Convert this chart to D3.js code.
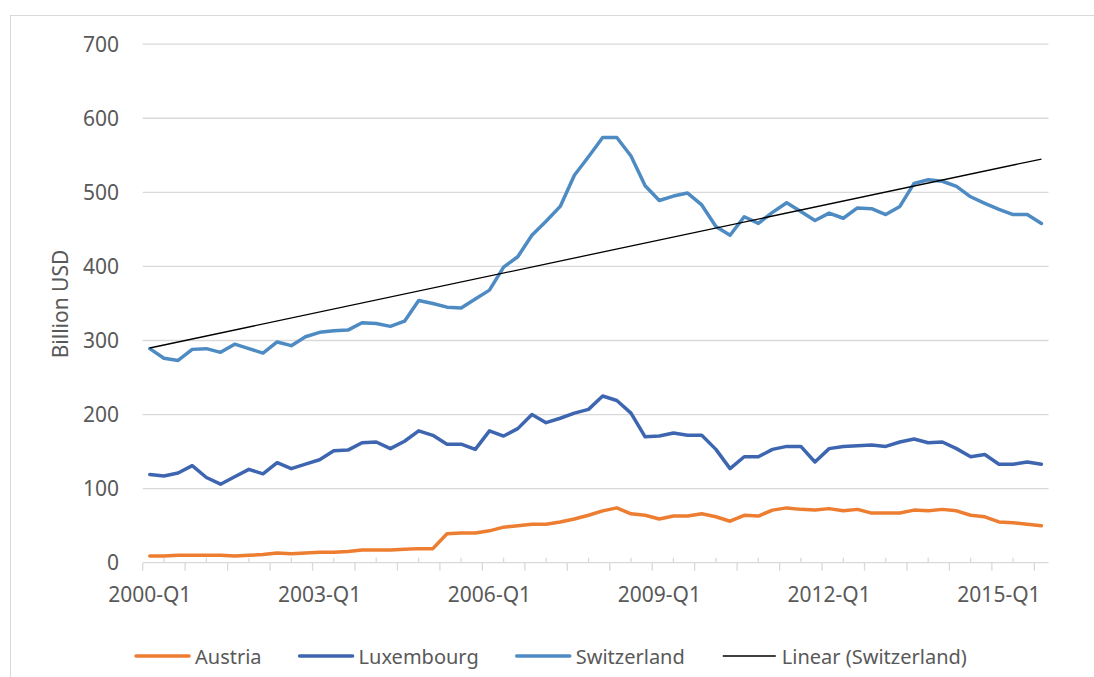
<!DOCTYPE html>
<html>
<head>
<meta charset="utf-8">
<script src="https://cdnjs.cloudflare.com/ajax/libs/d3/7.8.5/d3.min.js"></script>
<style>
  body { margin: 0; background: #fff; }
  text { font-family: "Noto Sans", "Open Sans", sans-serif; fill: #595959; }
</style>
</head>
<body>
<div id="chart"></div>
<script>
// quarterly categories 2000-Q1 .. 2015-Q4
var years = d3.range(2000, 2016);
var categories = years.flatMap(y => ["Q1", "Q2", "Q3", "Q4"].map(q => y + "-" + q));

var austria = [9, 9, 10, 10, 10, 10, 9, 10, 11, 13, 12, 13, 14, 14, 15, 17, 17, 17, 18, 19,
  19, 39, 40, 40, 43, 48, 50, 52, 52, 55, 59, 64, 70, 74, 66, 64, 59, 63, 63, 66,
  62, 56, 64, 63, 71, 74, 72, 71, 73, 70, 72, 67, 67, 67, 71, 70, 72, 70, 64, 62,
  55, 54, 52, 50];

var luxembourg = [119, 117, 121, 131, 115, 106, 116, 126, 120, 135, 127, 133, 139, 151, 152, 162, 163, 154, 164, 178,
  172, 160, 160, 153, 178, 171, 181, 200, 189, 195, 202, 207, 225, 219, 202, 170, 171, 175, 172, 172,
  153, 127, 143, 143, 153, 157, 157, 136, 154, 157, 158, 159, 157, 163, 167, 162, 163, 154, 143, 146,
  133, 133, 136, 133];

var switzerland = [289, 276, 273, 288, 289, 284, 295, 289, 283, 298, 293, 305, 311, 313, 314, 324, 323, 319, 326, 354,
  350, 345, 344, 356, 368, 399, 413, 442, 461, 481, 523, 548, 574, 574, 549, 509, 489, 495, 499, 483,
  454, 442, 467, 458, 473, 486, 474, 462, 472, 465, 479, 478, 470, 481, 512, 517, 515, 508, 494, 485,
  477, 470, 470, 458];

var yTicks = [0, 100, 200, 300, 400, 500, 600, 700];
var xLabels = ["2000-Q1", "2003-Q1", "2006-Q1", "2009-Q1", "2012-Q1", "2015-Q1"];

var series = [
  {name: "Austria", values: austria, color: "#ED7D31"},
  {name: "Luxembourg", values: luxembourg, color: "#3E66B0"},
  {name: "Switzerland", values: switzerland, color: "#4F8BC3"}
];

var width = 1094, height = 677;

var svg = d3.select("#chart")
  .append("svg")
  .attr("width", width)
  .attr("height", height);

svg.append("rect")
  .attr("width", width).attr("height", height)
  .attr("fill", "#fff");

// outer chart frame (only left and top edges are visible)
svg.append("rect")
  .attr("x", 10.5).attr("y", 15.5)
  .attr("width", width + 20).attr("height", height + 20)
  .attr("fill", "none")
  .attr("stroke", "#d9d9d9");

var x = d3.scalePoint()
  .domain(categories)
  .range([142.7, 1048.5])
  .padding(0.5);

var step = x.step();
var x0 = x.range()[0];

var y = d3.scaleLinear()
  .domain([0, 700])
  .range([562.7, 44.2]);

// gridlines
svg.append("g")
  .selectAll("line")
  .data(yTicks)
  .enter()
  .append("line")
  .attr("x1", x0).attr("x2", x.range()[1])
  .attr("y1", d => y(d)).attr("y2", d => y(d))
  .attr("stroke", "#d9d9d9")
  .attr("stroke-width", 1.3);

// y tick labels
svg.append("g")
  .selectAll("text")
  .data(yTicks)
  .enter()
  .append("text")
  .attr("x", 119)
  .attr("y", d => y(d))
  .attr("dy", "0.36em")
  .attr("text-anchor", "end")
  .style("font-size", "21px")
  .text(d => d);

svg.append("text")
  .attr("transform", "translate(68,304) rotate(-90)")
  .attr("text-anchor", "middle")
  .style("font-size", "21px")
  .text("Billion USD");

// x axis tick marks: major every 3 categories outside, minor between inside
var majorIdx = d3.range(0, categories.length + 1, 3);
svg.append("g")
  .selectAll("line")
  .data(majorIdx)
  .enter()
  .append("line")
  .attr("x1", d => x0 + d * step).attr("x2", d => x0 + d * step)
  .attr("y1", y(0)).attr("y2", y(0) + 8)
  .attr("stroke", "#d9d9d9")
  .attr("stroke-width", 1.3);

svg.append("g")
  .selectAll("line")
  .data(majorIdx.slice(0, -1))
  .enter()
  .append("line")
  .attr("x1", d => x0 + (d + 1.5) * step).attr("x2", d => x0 + (d + 1.5) * step)
  .attr("y1", y(0) - 5).attr("y2", y(0))
  .attr("stroke", "#d9d9d9")
  .attr("stroke-width", 1.3);

svg.append("g")
  .selectAll("text")
  .data(xLabels)
  .enter()
  .append("text")
  .attr("x", d => x(d))
  .attr("y", 602)
  .attr("text-anchor", "middle")
  .style("font-size", "21px")
  .text(d => d);

// series lines
var line = d3.line()
  .x((d, i) => x(categories[i]))
  .y(d => y(d));

svg.append("g")
  .selectAll("path")
  .data(series)
  .enter()
  .append("path")
  .attr("d", d => line(d.values))
  .attr("fill", "none")
  .attr("stroke", d => d.color)
  .attr("stroke-width", 3.5)
  .attr("stroke-linejoin", "round")
  .attr("stroke-linecap", "round");

// linear trend for Switzerland (least squares)
var n = switzerland.length;
var mx = d3.mean(d3.range(n)), my = d3.mean(switzerland);
var sxy = d3.sum(switzerland, (v, i) => (i - mx) * (v - my));
var sxx = d3.sum(d3.range(n), i => (i - mx) * (i - mx));
var slope = sxy / sxx, icpt = my - slope * mx;

svg.append("line")
  .attr("x1", x(categories[0])).attr("y1", y(icpt))
  .attr("x2", x(categories[n - 1])).attr("y2", y(icpt + slope * (n - 1)))
  .attr("stroke", "#000")
  .attr("stroke-width", 1.3);

// legend
var legendItems = series.map(s => ({name: s.name, color: s.color, w: 3.5}))
  .concat([{name: "Linear (Switzerland)", color: "#000", w: 1.3}]);

var lx = 136;
legendItems.forEach(function(d) {
  svg.append("line")
    .attr("x1", lx).attr("x2", lx + 53)
    .attr("y1", 656).attr("y2", 656)
    .attr("stroke", d.color)
    .attr("stroke-width", d.w)
    .attr("stroke-linecap", d.w > 2 ? "round" : "butt");
  var t = svg.append("text")
    .attr("x", lx + 59)
    .attr("y", 663.5)
    .style("font-size", "20px")
    .text(d.name);
  lx += 59 + t.node().getComputedTextLength() + 38;
});
</script>
</body>
</html>
